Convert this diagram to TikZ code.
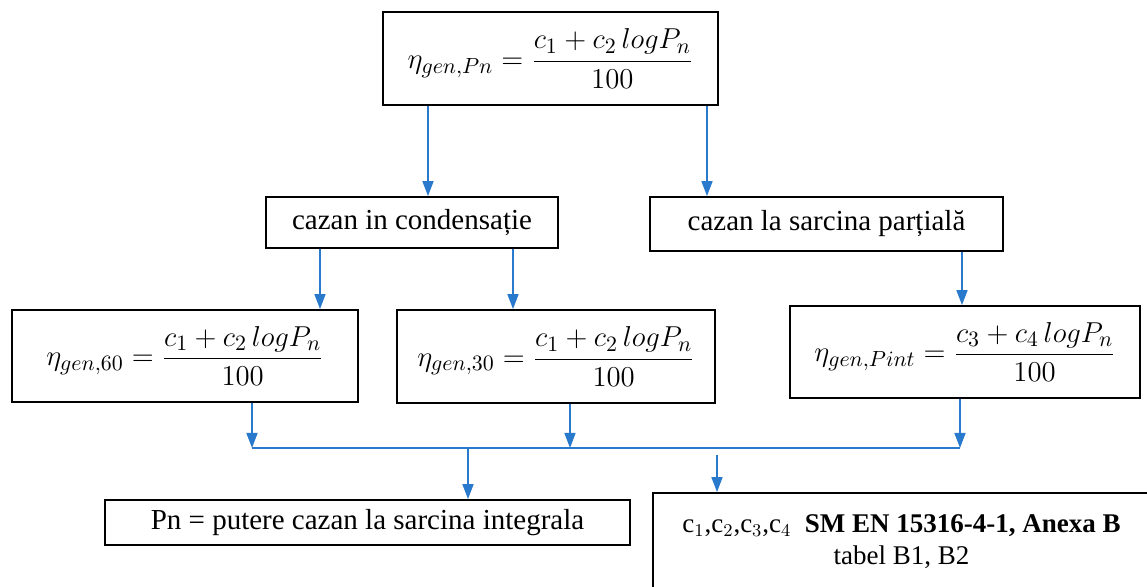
\documentclass[tikz,border=0pt]{standalone}
\usepackage{amsmath}
\usepackage{fontspec}
\setmainfont{Liberation Serif}
\usetikzlibrary{arrows.meta, calc}
\definecolor{flowblue}{RGB}{41,121,204}

\begin{document}
\begin{tikzpicture}[x=0.5pt, y=-0.5pt,
    box/.style={draw, line width=0.9pt, inner sep=0pt, align=center,
      font=\fontsize{14.5}{17}\selectfont},
    formbox/.style={box, font=\fontsize{15}{18}\selectfont},
    arr/.style={-{Triangle[width=5.5pt,length=7.5pt]}, flowblue, line width=0.8pt}]
    \clip (0,0) rectangle (1147,587);

    % boxes
    \node[formbox, minimum width=167.5pt, minimum height=46.5pt] (top) at (550.5,58.5)
        {$\eta_{gen,Pn} = \dfrac{c_1 + c_2\,logP_n}{100}$};
    \node[box, minimum width=146pt, minimum height=25.5pt] (cond) at (412,222.5)
        {cazan in condensație};
    \node[box, minimum width=176.5pt, minimum height=27pt] (part) at (826.5,224)
        {cazan la sarcina parțială};
    \node[formbox, minimum width=173pt, minimum height=46pt] (e60) at (185,356)
        {$\eta_{gen,60} = \dfrac{c_1 + c_2\,logP_n}{100}$};
    \node[formbox, minimum width=159pt, minimum height=46.5pt] (e30) at (556,356.5)
        {$\eta_{gen,30} = \dfrac{c_1 + c_2\,logP_n}{100}$};
    \node[formbox, minimum width=175pt, minimum height=46pt] (ePint) at (965,352)
        {$\eta_{gen,Pint} = \dfrac{c_3 + c_4\,logP_n}{100}$};
    \node[box, minimum width=262.5pt, minimum height=22.5pt] (Pn) at (367.5,522.5)
        {Pn = putere cazan la sarcina integrala};
    \node[box, font=\fontsize{13.5}{16}\selectfont, minimum width=248.5pt, minimum height=48.5pt] (cbox) at (901.5,541.5)
        {c$_1$,c$_2$,c$_3$,c$_4$\ \ \textbf{SM EN 15316-4-1, Anexa B}\\tabel B1, B2};

    % x positions of the connectors
    \coordinate (xa) at (428,0);
    \coordinate (xb) at (707,0);
    \coordinate (xc) at (320,0);
    \coordinate (xd) at (513,0);
    \coordinate (xe) at (962,0);
    \coordinate (xg) at (570,0);
    \coordinate (xi) at (468,0);
    \coordinate (xj) at (717,0);
    \coordinate (barL) at (252,448);
    \coordinate (barR) at (960,448);

    \draw[arr] (top.south -| xa) -- (cond.north -| xa);
    \draw[arr] (top.south -| xb) -- (part.north -| xb);
    \draw[arr] (cond.south -| xc) -- (e60.north -| xc);
    \draw[arr] (cond.south -| xd) -- (e30.north -| xd);
    \draw[arr] (part.south -| xe) -- (ePint.north -| xe);

    \draw[arr] (e60.south -| barL) -- (barL);
    \draw[arr] (e30.south -| xg) -- (xg |- barL);
    \draw[arr] (ePint.south -| barR) -- (barR);
    \draw[flowblue, line width=0.8pt] (barL) -- (barR);

    \draw[arr] (xi |- barL) -- (Pn.north -| xi);
    \draw[arr] ($(xj |- barL)+(0,7)$) -- (cbox.north -| xj);
\end{tikzpicture}
\end{document}
